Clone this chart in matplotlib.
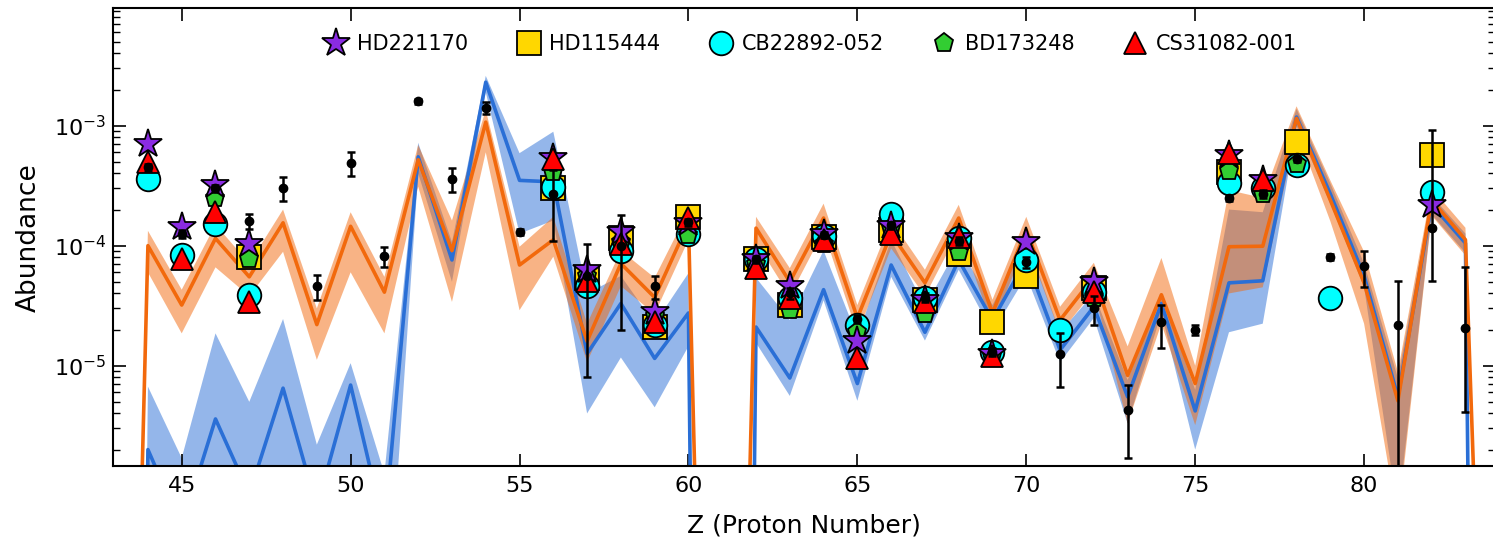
import matplotlib
matplotlib.use('Agg')
import matplotlib.pyplot as plt
from matplotlib.ticker import MultipleLocator, LogLocator, NullFormatter
import numpy as np

# proton numbers for the model curves
z_model = list(range(43, 85))

# model 1 (orange): median and band edges
orange_mid = [1e-15, 1.0e-4, 3.2e-5, 1.15e-4, 5.5e-5, 1.55e-4, 2.2e-5, 1.45e-4, 4.1e-5, 5.2e-4,
              9.1e-5, 1.07e-3, 6.9e-5, 1.12e-4, 1.6e-5, 7.1e-5, 3.7e-5, 1.55e-4, 1e-15, 1.4e-4,
              5.0e-5, 1.7e-4, 2.5e-5, 1.26e-4, 4.9e-5, 1.7e-4, 2.75e-5, 1.35e-4, 2.4e-5, 5.5e-5,
              8.3e-6, 3.9e-5, 7.1e-6, 9.8e-5, 9.9e-5, 1.15e-3, 2.4e-4, 4.9e-5, 5.1e-6, 2.4e-4,
              1.12e-4, 1e-12]
orange_hi = [1e-15, 1.33e-4, 4.3e-5, 1.5e-4, 7.1e-5, 2.0e-4, 3.0e-5, 1.9e-4, 5.5e-5, 6.9e-4,
             1.62e-4, 1.35e-3, 9.8e-5, 1.74e-4, 2.24e-5, 9.1e-5, 5.4e-5, 1.95e-4, 1e-15, 1.74e-4,
             6.5e-5, 2.24e-4, 3.2e-5, 1.62e-4, 6.3e-5, 2.19e-4, 3.55e-5, 1.74e-4, 3.1e-5, 7.2e-5,
             1.45e-5, 7.9e-5, 1.0e-5, 2.9e-4, 2.5e-4, 1.45e-3, 3.5e-4, 8.9e-5, 8.9e-6, 3.0e-4,
             1.41e-4, 1e-12]
orange_lo = [1e-15, 6.0e-5, 1.86e-5, 6.6e-5, 3.8e-5, 8.9e-5, 1.12e-5, 6.0e-5, 1.86e-5, 3.1e-4,
             3.4e-5, 6.0e-4, 2.9e-5, 8.1e-5, 1.07e-5, 4.6e-5, 2.7e-5, 1.12e-4, 1e-15, 1.07e-4,
             3.8e-5, 1.32e-4, 1.86e-5, 9.5e-5, 3.8e-5, 1.32e-4, 2.14e-5, 1.05e-4, 1.86e-5, 4.2e-5,
             3.3e-6, 2.24e-5, 3.2e-6, 4.0e-5, 4.5e-5, 9.1e-4, 1.6e-4, 2.24e-5, 5e-7, 1.78e-4,
             8.3e-5, 1e-12]

# model 2 (blue): median and band edges
blue_mid = [1e-30, 2.0e-6, 4.5e-7, 3.6e-6, 8.5e-7, 6.5e-6, 6.6e-7, 6.9e-6, 4.4e-7, 5.5e-4,
            7.6e-5, 2.3e-3, 3.5e-4, 3.4e-4, 1.26e-5, 3.3e-5, 1.15e-5, 2.75e-5, 1e-30, 2.1e-5,
            7.9e-6, 4.3e-5, 7.1e-6, 6.9e-5, 1.9e-5, 7.6e-5, 2.4e-5, 7.6e-5, 1.35e-5, 3.1e-5,
            5.5e-6, 3.3e-5, 4.2e-6, 4.9e-5, 5.1e-5, 1.18e-3, 2.7e-4, 5.6e-5, 5.5e-6, 2.2e-4,
            1.05e-4, 1e-30]
blue_hi = [1e-30, 6.7e-6, 1.7e-6, 1.86e-5, 5.0e-6, 2.45e-5, 2.2e-6, 1.05e-5, 1.26e-6, 7.2e-4,
           1.07e-4, 2.6e-3, 5.9e-4, 8.9e-4, 4.0e-5, 5.6e-5, 2.24e-5, 5.9e-5, 1e-30, 5.4e-5,
           2.4e-5, 9.1e-5, 1.74e-5, 1.12e-4, 3.1e-5, 1.0e-4, 3.2e-5, 1.12e-4, 1.9e-5, 4.0e-5,
           7.6e-6, 4.0e-5, 6.3e-6, 2.0e-4, 1.9e-4, 1.38e-3, 3.3e-4, 7.1e-5, 7.9e-6, 2.6e-4,
           1.26e-4, 1e-30]
blue_lo = [1e-30, 1e-7, 3e-8, 3e-7, 1e-7, 3e-7, 1e-7, 3e-7, 3e-8, 4.0e-4,
           5.0e-5, 1.9e-3, 1.26e-4, 1.62e-4, 4.0e-6, 1.17e-5, 4.5e-6, 1.45e-5, 1e-30, 1.55e-5,
           5.6e-6, 3.5e-5, 5.1e-6, 5.5e-5, 1.62e-5, 6.3e-5, 1.9e-5, 5.6e-5, 1.07e-5, 2.5e-5,
           3.3e-6, 2.75e-5, 2.0e-6, 1.9e-5, 2.24e-5, 1.0e-3, 2.24e-4, 4.5e-5, 6e-7, 1.82e-4,
           8.7e-5, 1e-30]

# measured abundances with error bars (black)
z_meas = [44, 45, 46, 47, 48, 49, 50, 51, 52, 53, 54, 55, 56, 57, 58, 59, 60,
          62, 63, 64, 65, 66, 67, 68, 69, 70, 71, 72, 73, 74, 75, 76, 77, 78, 79, 80, 81, 82, 83]
meas_val = [4.5e-4, 1.26e-4, 3.0e-4, 1.6e-4, 3.0e-4, 4.6e-5, 4.9e-4, 8.2e-5, 1.6e-3, 3.6e-4,
            1.41e-3, 1.3e-4, 2.7e-4, 5.6e-5, 1.0e-4, 4.6e-5, 1.56e-4,
            7.7e-5, 4.0e-5, 1.23e-4, 2.46e-5, 1.48e-4, 3.7e-5, 1.1e-4, 1.3e-5, 7.3e-5, 1.26e-5,
            3.0e-5, 4.3e-6, 2.3e-5, 2.0e-5, 2.5e-4, 2.7e-4, 5.3e-4, 8.1e-5, 6.8e-5, 2.2e-5,
            1.4e-4, 2.05e-5]
meas_err_lo = [3e-5, 1e-5, 2e-5, 2.3e-5, 6.5e-5, 1.1e-5, 1.1e-4, 1.5e-5, 8e-5, 8e-5,
               1.7e-4, 8e-6, 1.6e-4, 4.8e-5, 8e-5, 1.0e-5, 1e-5,
               5e-6, 4e-6, 8e-6, 2e-6, 1e-5, 3e-6, 8e-6, 1e-6, 8e-6, 6e-6,
               8e-6, 2.6e-6, 9e-6, 2e-6, 1.5e-5, 2e-5, 3e-5, 5e-6, 2.3e-5, 2.9e-5,
               8.9e-5, 1.64e-5]
meas_err_hi = [3e-5, 1e-5, 2e-5, 2.3e-5, 7e-5, 1.1e-5, 1.1e-4, 1.5e-5, 8e-5, 8e-5,
               1.7e-4, 8e-6, 1.6e-4, 4.8e-5, 8e-5, 1.0e-5, 1e-5,
               5e-6, 4e-6, 8e-6, 2e-6, 1e-5, 3e-6, 8e-6, 1e-6, 8e-6, 6e-6,
               8e-6, 2.6e-6, 9e-6, 2e-6, 1.5e-5, 2e-5, 3e-5, 5e-6, 2.3e-5, 2.9e-5,
               7.8e-4, 4.65e-5]

# stellar abundances
z_hd221170 = [44, 45, 46, 47, 56, 57, 58, 59, 60, 62, 63, 64, 65, 66, 67, 68, 69, 70, 72, 76, 77, 82]
hd221170 = [7.1e-4, 1.44e-4, 3.2e-4, 1.04e-4, 5.4e-4, 6.3e-5, 1.3e-4, 2.8e-5, 1.55e-4, 7.7e-5,
            4.6e-5, 1.26e-4, 1.6e-5, 1.45e-4, 3.5e-5, 1.15e-4, 1.26e-5, 1.07e-4, 5.0e-5,
            5.7e-4, 3.5e-4, 2.2e-4]
z_hd115444 = [47, 56, 57, 58, 59, 60, 62, 63, 64, 66, 67, 68, 69, 70, 72, 76, 78, 82]
hd115444 = [8.1e-5, 3.0e-4, 5.4e-5, 1.15e-4, 2.1e-5, 1.74e-4, 7.7e-5, 3.2e-5, 1.18e-4, 1.34e-4,
            3.5e-5, 8.5e-5, 2.3e-5, 5.6e-5, 4.4e-5, 4.1e-4, 7.3e-4, 5.7e-4]
z_cb22892 = [44, 45, 46, 47, 56, 57, 58, 59, 60, 62, 63, 64, 65, 66, 67, 68, 69, 70, 71, 72,
             76, 77, 78, 79, 82]
cb22892 = [3.6e-4, 8.3e-5, 1.53e-4, 3.9e-5, 3.1e-4, 4.6e-5, 9.1e-5, 2.2e-5, 1.26e-4, 7.7e-5,
           3.7e-5, 1.2e-4, 2.2e-5, 1.85e-4, 3.7e-5, 1.15e-4, 1.3e-5, 7.6e-5, 2.0e-5, 4.1e-5,
           3.3e-4, 3.0e-4, 4.7e-4, 3.7e-5, 2.8e-4]
z_bd173248 = [46, 47, 56, 57, 58, 59, 60, 62, 63, 64, 65, 66, 67, 68, 69, 72, 76, 77, 78]
bd173248 = [2.5e-4, 7.7e-5, 4.1e-4, 5.6e-5, 1.07e-4, 2.6e-5, 1.23e-4, 7.1e-5, 2.9e-5, 1.04e-4,
            1.9e-5, 1.4e-4, 2.7e-5, 8.9e-5, 1.2e-5, 3.7e-5, 4.2e-4, 2.7e-4, 4.8e-4]
z_cs31082 = [44, 45, 46, 47, 56, 57, 58, 59, 60, 62, 63, 64, 65, 66, 67, 68, 69, 72, 76, 77]
cs31082 = [5.0e-4, 7.7e-5, 1.9e-4, 3.4e-5, 5.3e-4, 5.1e-5, 1.04e-4, 2.3e-5, 1.7e-4, 6.5e-5,
           3.7e-5, 1.12e-4, 1.15e-5, 1.26e-4, 3.4e-5, 1.17e-4, 1.2e-5, 4.1e-5, 5.9e-4, 3.5e-4]

blue = '#2a6fd6'
orange = '#f2690c'

fig = plt.figure(figsize=(14.93, 5.48), dpi=100)
# right spine sits just past the edge of the canvas, as in the original
ax = fig.add_axes([113.3 / 1493, 1 - 466 / 548, (1494.5 - 113.3) / 1493, (466 - 8.3) / 548])
ax.set_yscale('log')

ax.fill_between(z_model, blue_lo, blue_hi, color=blue, alpha=0.5, lw=0, zorder=1)
ax.fill_between(z_model, orange_lo, orange_hi, color=orange, alpha=0.5, lw=0, zorder=1)
ax.plot(z_model, blue_mid, color=blue, lw=2.6, zorder=2)
ax.plot(z_model, orange_mid, color=orange, lw=2.6, zorder=2)

mk = dict(linestyle='none', markeredgecolor='black', markeredgewidth=1.3)
ax.plot(z_hd115444, hd115444, marker='s', ms=17, markerfacecolor='gold', label='HD115444', zorder=3, **mk)
ax.plot(z_cb22892, cb22892, marker='o', ms=17, markerfacecolor='cyan', label='CB22892-052', zorder=4, **mk)
ax.plot(z_bd173248, bd173248, marker='p', ms=14, markerfacecolor='limegreen', label='BD173248', zorder=5, **mk)
ax.plot(z_hd221170, hd221170, marker='*', ms=21, markerfacecolor='blueviolet', label='HD221170', zorder=6, **mk)
ax.plot(z_cs31082, cs31082, marker='^', ms=16, markerfacecolor='red', label='CS31082-001', zorder=7, **mk)

ax.errorbar(z_meas, meas_val, yerr=[meas_err_lo, meas_err_hi], fmt='o', color='black', ms=6,
            elinewidth=1.8, capsize=3, capthick=1.8, zorder=10)

ax.set_xlim(42.975, 83.86)
ax.set_ylim(1.46e-6, 9.5e-3)
ax.xaxis.set_major_locator(MultipleLocator(5))
ax.yaxis.set_major_locator(LogLocator(base=10, numticks=10))
ax.yaxis.set_minor_locator(LogLocator(base=10, subs=np.arange(2, 10), numticks=10))
ax.yaxis.set_minor_formatter(NullFormatter())
ax.tick_params(which='both', direction='in', top=True, right=True, labelsize=16)
ax.tick_params(which='major', length=9, width=1.2)
ax.tick_params(which='minor', length=5, width=1.0)
ax.tick_params(axis='x', pad=7)
ax.tick_params(axis='y', pad=5)
for s in ax.spines.values():
    s.set_linewidth(1.5)

ax.set_xlabel('Z (Proton Number)', fontsize=18, labelpad=13)
ax.set_ylabel('Abundance', fontsize=19)
ax.yaxis.set_label_coords(-0.052, 0.5)

handles, labels = ax.get_legend_handles_labels()
order = ['HD221170', 'HD115444', 'CB22892-052', 'BD173248', 'CS31082-001']
hmap = dict(zip(labels, handles))
ax.legend([hmap[k] for k in order], order, loc='upper center', bbox_to_anchor=(0.5055, 0.985),
          ncol=5, frameon=False, fontsize=15, handlelength=1.0, handletextpad=0.5,
          columnspacing=2.4)

fig.savefig('out.png', dpi=100)
